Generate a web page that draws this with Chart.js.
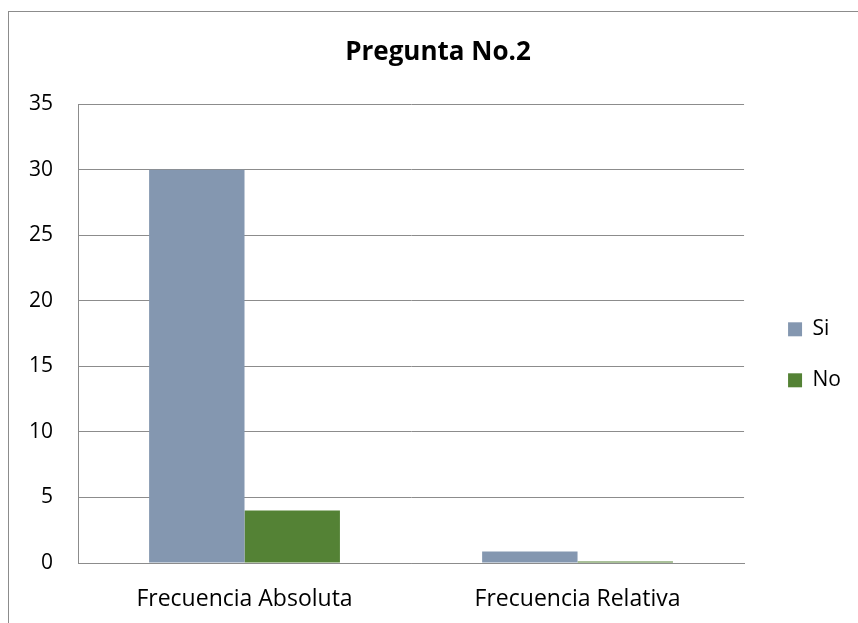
<!DOCTYPE html>
<html>
<head>
<meta charset="utf-8">
<script src="https://cdn.jsdelivr.net/npm/chart.js@4"></script>
<style>
  body { margin: 0; background: #fff; }
  #wrap { width: 858px; height: 623px; }
</style>
</head>
<body>
<div id="wrap"><canvas id="chart" width="858" height="623"></canvas></div>
<script>
// Datos de la gráfica
var categorias = ['Frecuencia Absoluta', 'Frecuencia Relativa'];
var valoresSi = [30, 0.88];
var valoresNo = [4, 0.12];
var ticksY = [0, 5, 10, 15, 20, 25, 30, 35];

var fuente = "'Open Sans', 'Liberation Sans', sans-serif";

// Marco gris alrededor del gráfico
var marco = {
  id: 'marco',
  beforeDraw: function(chart) {
    var c = chart.ctx;
    c.save();
    c.fillStyle = '#fff';
    c.fillRect(0, 0, chart.width, chart.height);
    c.strokeStyle = '#8c8c8c';
    c.lineWidth = 1;
    c.strokeRect(8.5, 11.5, chart.width + 10, chart.height + 10);
    c.restore();
  }
};

var ctx = document.getElementById('chart').getContext('2d');
var chart = new Chart(ctx, {
  type: 'bar',
  data: {
    labels: categorias,
    datasets: [
      { label: 'Si', data: valoresSi, backgroundColor: '#8497b0', categoryPercentage: 0.573, barPercentage: 1 },
      { label: 'No', data: valoresNo, backgroundColor: '#548235', categoryPercentage: 0.573, barPercentage: 1 }
    ]
  },
  options: {
    responsive: false,
    animation: false,
    layout: { padding: { left: 25, right: 7, top: 37, bottom: 10 } },
    plugins: {
      title: {
        display: true,
        text: 'Pregunta No.2',
        color: '#000',
        font: { family: fuente, size: 26, weight: 'bold' },
        padding: { top: 0, bottom: 36 }
      },
      legend: {
        position: 'right',
        align: 'center',
        title: { display: true, text: ' ', padding: 13, font: { family: fuente, size: 28 } },
        labels: {
          color: '#000',
          font: { family: fuente, size: 21 },
          boxWidth: 14,
          boxHeight: 14,
          padding: 30
        }
      },
      tooltip: { enabled: false }
    },
    scales: {
      x: {
        afterFit: function(s) { s.height = 50; },
        grid: { display: false, drawTicks: false },
        border: { color: '#8c8c8c' },
        ticks: { color: '#000', font: { family: fuente, size: 23 }, padding: 23, maxRotation: 0 }
      },
      y: {
        min: 0,
        max: 35,
        afterFit: function(s) { s.width = 53; },
        afterBuildTicks: function(s) { s.ticks = ticksY.map(function(v) { return { value: v }; }); },
        grid: { color: '#8c8c8c', drawTicks: false },
        border: { color: '#8c8c8c' },
        ticks: { color: '#000', font: { family: fuente, size: 21 }, padding: 25 }
      },
      // eje vacío que solo deja espacio entre el área y la leyenda
      yDer: {
        position: 'right',
        afterFit: function(s) { s.width = 14; },
        grid: { display: false, drawTicks: false },
        border: { display: false },
        ticks: { display: false }
      }
    }
  },
  plugins: [marco]
});
</script>
</body>
</html>
